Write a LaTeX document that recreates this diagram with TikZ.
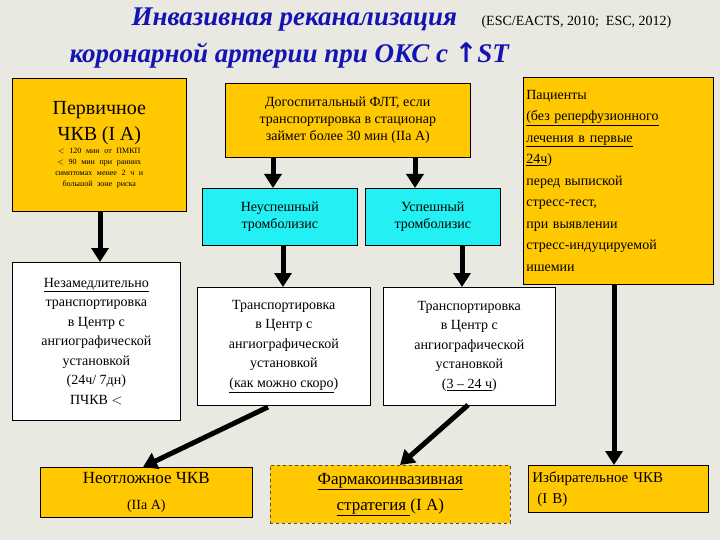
\documentclass[tikz,border=0pt]{standalone}
\usepackage{fontspec}
\setmainfont{Liberation Serif}
\newfontfamily\dvfont{DejaVu Sans}
\usetikzlibrary{arrows.meta}
\definecolor{bg}{HTML}{E9E9E1}
\definecolor{yel}{HTML}{FFC800}
\definecolor{cya}{HTML}{22F0F2}
\definecolor{ttl}{HTML}{1414B4}
\tikzset{
  bx/.style={draw=black, line width=0.6pt, align=center, inner sep=2pt, font=\fontsize{14}{17}\selectfont},
  ybox/.style={bx, fill=yel},
  cbox/.style={bx, fill=cya},
  wbox/.style={bx, fill=white},
  arr/.style={line width=5pt, -{Triangle[length=14pt,width=17pt]}},
}
\begin{document}
\begin{tikzpicture}[x=1pt,y=-1pt]
\fill[bg] (0,0) rectangle (720,540);
\useasboundingbox (0,0) rectangle (720,540);
% title
\node[font=\fontsize{27}{30}\selectfont\bfseries\itshape, text=ttl, anchor=west] (t1) at (128,20) {Инвазивная реканализация};
\node[font=\fontsize{14}{16}\selectfont, anchor=west] (t1b) at (478,22) {(ESC/EACTS, 2010;\ \ ESC, 2012)};
\node[font=\fontsize{27}{30}\selectfont\bfseries\itshape, text=ttl, anchor=west] (t2) at (66,55) {коронарной артерии при ОКС с {\dvfont\bfseries\upshape ↑}ST};
% boxes
\node[ybox, minimum width=174, minimum height=133, anchor=north west, text width=168, align=center] (prim) at (12,78)
 {\fontsize{20}{26}\selectfont Первичное\\ЧКВ (I A)\\[2pt]
  \fontsize{8}{11}\selectfont $<$ 120 мин от ПМКП\\ $<$ 90 мин при ранних\\ симптомах менее 2 ч и\\ большой зоне риска\\[14pt]};
\node[ybox, minimum width=245, minimum height=74, anchor=north west] (dog) at (225,83)
 {Догоспитальный ФЛТ, если\\транспортировка в стационар\\займет более 30 мин (IIa A)};
\node[ybox, minimum width=190, minimum height=207, anchor=north west, align=left, text width=184, font=\fontsize{14}{21.5}\selectfont] (pat) at (523,77)
 {Пациенты\\\underline{(без реперфузионного}\\\underline{лечения в первые}\\\underline{24ч})\\перед выпиской\\стресс-тест,\\при выявлении\\стресс-индуцируемой\\ишемии};
\node[cbox, minimum width=155, minimum height=57, anchor=north west] (neu) at (202,188) {Неуспешный\\тромболизис};
\node[cbox, minimum width=135, minimum height=57, anchor=north west] (usp) at (365,188) {Успешный\\тромболизис};
\node[wbox, minimum width=168, minimum height=158, anchor=north west, font=\fontsize{14}{19.5}\selectfont] (nez) at (12,262)
 {\underline{Незамедлительно}\\транспортировка\\в Центр с\\ангиографической\\установкой\\(24ч/ 7дн)\\ПЧКВ $<$};
\node[wbox, minimum width=173, minimum height=118, anchor=north west, font=\fontsize{14}{19.5}\selectfont] (tr1) at (197,287)
 {Транспортировка\\в Центр с\\ангиографической\\установкой\\\underline{(как можно скоро})};
\node[wbox, minimum width=172, minimum height=118, anchor=north west, font=\fontsize{14}{19.5}\selectfont] (tr2) at (383,287)
 {Транспортировка\\в Центр с\\ангиографической\\установкой\\(\underline{3 -- 24 ч})};
\node[ybox, minimum width=212, minimum height=50, anchor=north west, font=\fontsize{17}{26}\selectfont] (neo) at (40,467)
 {Неотложное ЧКВ\\{\fontsize{14}{14}\selectfont (IIa A)}};
\node[ybox, dashed, draw=black!70, minimum width=240, minimum height=58, anchor=north west, font=\fontsize{17}{26}\selectfont] (far) at (270,465)
 {\underline{Фармакоинвазивная}\\\underline{стратегия }(I A)};
\node[ybox, minimum width=180, minimum height=47, anchor=north west, align=left, text width=172, font=\fontsize{15}{21}\selectfont] (izb) at (528,465)
 {Избирательное ЧКВ\\\ (I B)};
% x guides
\coordinate (xa) at (100,0);
\coordinate (xb) at (273,0);
\coordinate (xc) at (415,0);
\coordinate (xd) at (283,0);
\coordinate (xe) at (462,0);
\coordinate (xf) at (143,0);
\coordinate (xg) at (400,0);
\coordinate (xh) at (614,0);
\coordinate (s1) at (268,407);
\coordinate (s2) at (468,405);
% arrows
\draw[arr] (prim.south -| xa) -- (nez.north -| xa);
\draw[arr] (dog.south -| xb) -- (neu.north -| xb);
\draw[arr] (dog.south -| xc) -- (usp.north -| xc);
\draw[arr] (neu.south -| xd) -- (tr1.north -| xd);
\draw[arr] (usp.south -| xe) -- (tr2.north -| xe);
\draw[arr] (s1) -- (neo.north -| xf);
\draw[arr] (s2) -- (far.north -| xg);
\draw[arr] (pat.south -| xh) -- (izb.north -| xh);
\end{tikzpicture}
\end{document}
